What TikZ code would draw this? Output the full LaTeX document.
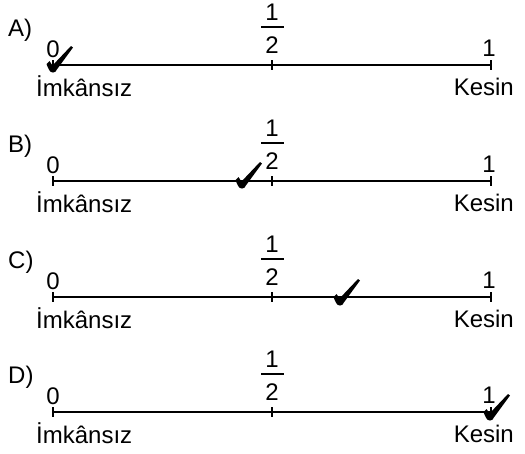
\documentclass[tikz,border=0pt]{standalone}
\usepackage{fontspec}
\setmainfont{Liberation Sans}
\usetikzlibrary{positioning}

\newcommand{\onay}[1]{\fill[shift={(#1)}] (0,2.5) .. controls (-3.5,2.5) and (-4.5,-1) .. (-6.5,-6) -- (-3.5,-9) -- (-0.5,-4.5) -- (18,-24) -- (20,-22.5) -- (3.5,0) .. controls (2.5,2) .. cycle;}

\begin{document}
\begin{tikzpicture}[x=1pt,y=-1pt,every node/.style={inner sep=0pt,font=\fontsize{24}{28}\selectfont},eksen/.style={line width=1.6pt},centik/.style={line width=1.2pt},kesir/.style={line width=1.8pt}]
		\useasboundingbox (0,0) rectangle (525,453);
		\foreach \harf/\L in {A/65,B/181,C/297,D/412}{
			\coordinate (bas\harf) at (53,\L);
			\coordinate (orta\harf) at (272,\L);
			\coordinate (son\harf) at (491,\L);
			\node[anchor=base west] (sik\harf) at (8,\L-29) {\harf)};
			\node[anchor=base] (sifir\harf) at (53,\L-8) {0};
			\node[anchor=base] (bir\harf) at (489,\L-9) {1};
			\node[anchor=base] (pay\harf) at (272,\L-45) {1};
			\node[anchor=base] (payda\harf) at (272,\L-12) {2};
			\node[anchor=base west] (imkansiz\harf) at (36,\L+31) {İmkânsız};
			\node[anchor=base east] (kesin\harf) at (514,\L+30) {Kesin};
			\draw[eksen] (bas\harf) -- (son\harf);
			\draw[centik] (bas\harf) ++(0,-5) -- ++(0,10);
			\draw[centik] (orta\harf) ++(0,-5) -- ++(0,10);
			\draw[centik] (son\harf) ++(0,-5) -- ++(0,10);
			\draw[kesir] (261,\L-38) -- (284,\L-38);
		}
		\coordinate (onayA) at (53,70);
		\coordinate (onayB) at (242,186);
		\coordinate (onayC) at (340,303);
		\coordinate (onayD) at (490,418);
		\onay{onayA}
		\onay{onayB}
		\onay{onayC}
		\onay{onayD}
\end{tikzpicture}
\end{document}
